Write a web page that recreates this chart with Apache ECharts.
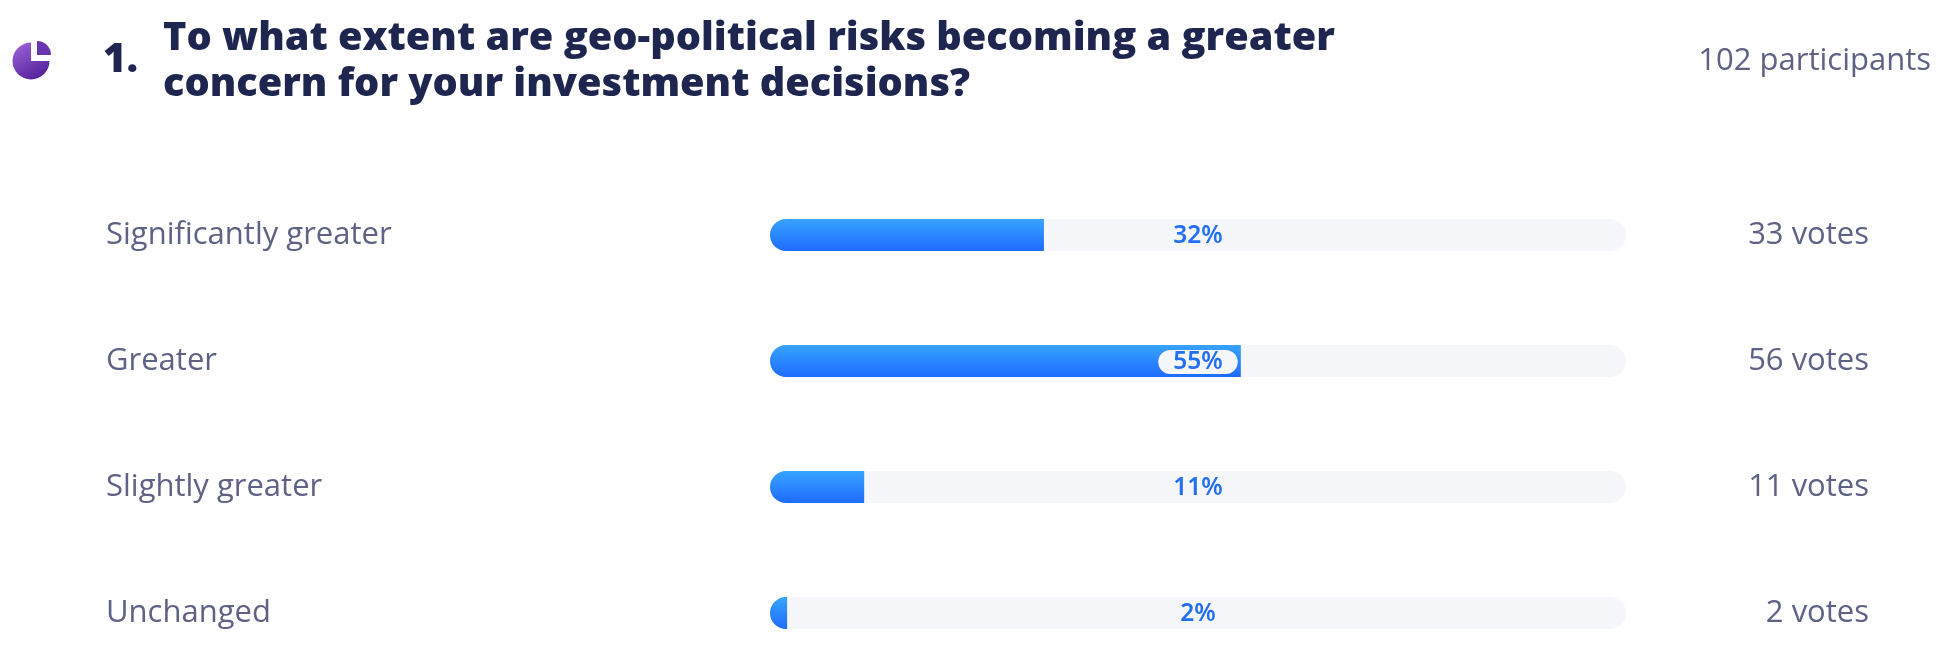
<!DOCTYPE html>
<html>
<head>
    <meta charset="UTF-8">
    <title>Poll result</title>
    <script src="https://cdn.jsdelivr.net/npm/echarts@6/dist/echarts.min.js"></script>
    <style>
        html, body { margin: 0; padding: 0; background: #fff; }
    </style>
</head>
<body>
<div id="chart" style="width:1940px;height:670px;"></div>
<script>
    var categories = ['Significantly greater', 'Greater', 'Slightly greater', 'Unchanged'];
    var percents = [32, 55, 11, 2];
    var votes = [33, 56, 11, 2];
    var trackValues = [100, 100, 100, 100];
    var questionLines = ['To what extent are geo-political risks becoming a greater', 'concern for your investment decisions?'];
    var questionNumber = '1.';
    var participants = '102 participants';

    var bodyFont = 'Open Sans';
    var barGradient = new echarts.graphic.LinearGradient(0, 0, 0, 1, [
        {offset: 0, color: '#37A3FF'},
        {offset: 1, color: '#1F6BFF'}
    ]);
    var iconGradient = new echarts.graphic.LinearGradient(0, 0, 0.6, 1, [
        {offset: 0, color: '#A166DC'},
        {offset: 1, color: '#55249B'}
    ]);

    var myChart = echarts.init(document.getElementById('chart'));
    var option = {
        animation: false,
        backgroundColor: '#fff',
        title: [
            {
                text: questionLines.join('\n'),
                left: 163,
                top: 16,
                padding: 0,
                textStyle: {fontFamily: bodyFont, fontWeight: 800, fontSize: 39.7, lineHeight: 46, color: '#1E2650'}
            },
            {
                text: questionNumber,
                left: 103,
                top: 41,
                padding: 0,
                textStyle: {fontFamily: bodyFont, fontWeight: 800, fontSize: 40, color: '#1E2650'}
            },
            {
                text: participants,
                right: 9,
                top: 46,
                padding: 0,
                textStyle: {fontFamily: bodyFont, fontWeight: 400, fontSize: 31, color: '#5E6284'}
            }
        ],
        graphic: [
            {
                type: 'sector',
                shape: {cx: 31, cy: 61, r: 18.5, r0: 0, startAngle: 0, endAngle: Math.PI * 1.5, clockwise: true},
                style: {fill: iconGradient}
            },
            {
                type: 'sector',
                shape: {cx: 37, cy: 55, r: 14, r0: 0, startAngle: -Math.PI / 2, endAngle: 0, clockwise: true},
                style: {fill: '#6A35B0'}
            }
        ],
        grid: {left: 770, width: 856, top: 235, height: 378},
        xAxis: {type: 'value', min: 0, max: 100, show: false},
        yAxis: [
            {
                type: 'category',
                inverse: true,
                boundaryGap: false,
                data: categories,
                axisLine: {show: false},
                axisTick: {show: false},
                axisLabel: {
                    interval: 0,
                    align: 'left',
                    margin: 664,
                    padding: [0, 0, 5, 0],
                    fontFamily: bodyFont,
                    fontSize: 31,
                    color: '#5E6284'
                }
            },
            {
                type: 'category',
                inverse: true,
                boundaryGap: false,
                position: 'right',
                data: votes.map(function (v) { return v + ' votes'; }),
                axisLine: {show: false},
                axisTick: {show: false},
                axisLabel: {
                    interval: 0,
                    align: 'right',
                    margin: 243,
                    padding: [0, 0, 5, 0],
                    fontFamily: bodyFont,
                    fontSize: 31,
                    color: '#5E6284'
                }
            }
        ],
        series: [
            {
                name: 'track',
                type: 'bar',
                barWidth: 32,
                barGap: '-100%',
                data: trackValues,
                silent: true,
                itemStyle: {color: '#F5F7FB', borderRadius: 16}
            },
            {
                name: 'percent',
                type: 'bar',
                barWidth: 32,
                barGap: '-100%',
                data: percents,
                itemStyle: {color: barGradient, borderRadius: [16, 0, 0, 16]}
            },
            {
                // transparent bar, only carries the centred percent label
                name: 'label',
                type: 'bar',
                barWidth: 32,
                barGap: '-100%',
                data: trackValues,
                silent: true,
                itemStyle: {color: 'transparent'},
                label: {
                    show: true,
                    position: 'inside',
                    offset: [0, 1],
                    formatter: function (p) {
                        var pct = percents[p.dataIndex];
                        return (pct > 50 ? '{pill|' : '{plain|') + pct + '%}';
                    },
                    rich: {
                        plain: {fontFamily: 'Noto Sans', fontWeight: 600, fontSize: 24.5, color: '#236FF6'},
                        pill: {
                            fontFamily: 'Noto Sans', fontWeight: 600, fontSize: 24.5, color: '#236FF6',
                            backgroundColor: '#F5F7FB', borderRadius: 12, padding: [0, 15], height: 24, lineHeight: 24
                        }
                    }
                }
            }
        ]
    };
    myChart.setOption(option);
</script>
</body>
</html>
